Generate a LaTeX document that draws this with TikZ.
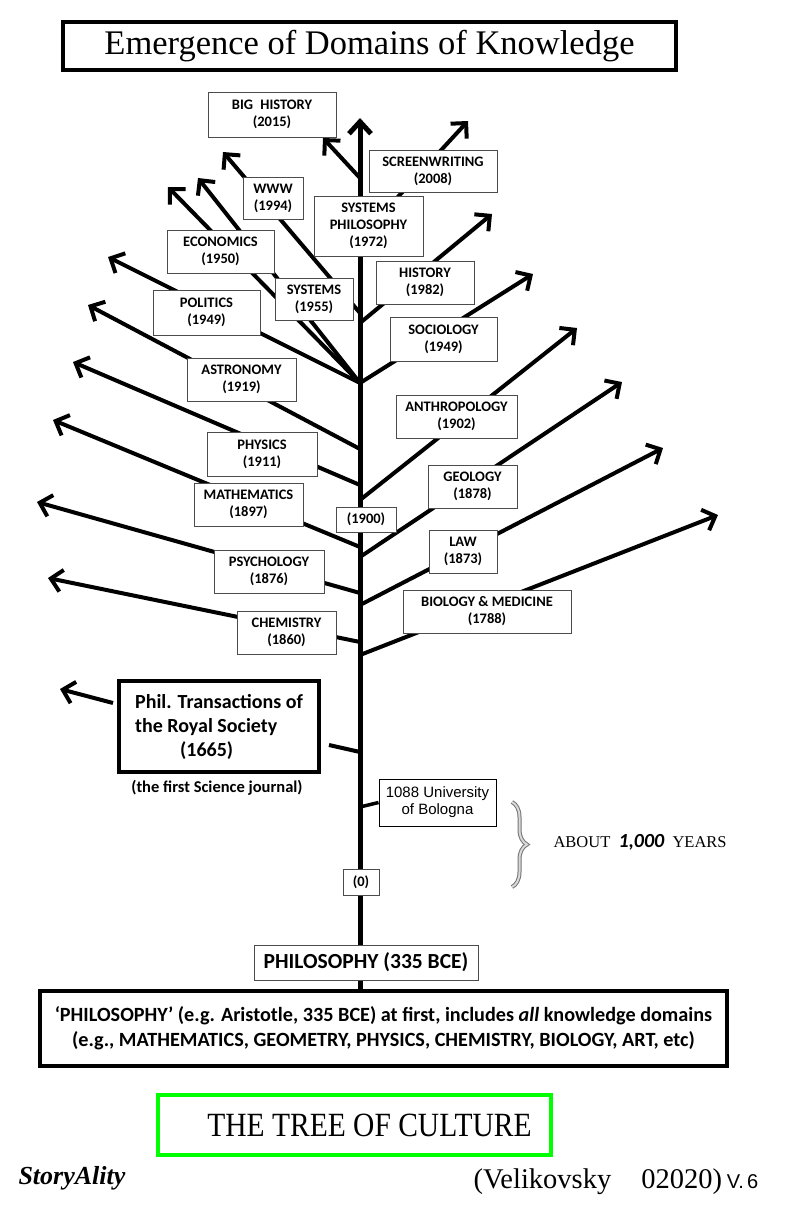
\documentclass[tikz,border=0pt]{standalone}
\usepackage{fontspec}
\setmainfont{Liberation Serif}
\newfontfamily\calibri{Carlito}
\newfontfamily\arialf{Liberation Sans}
\usetikzlibrary{arrows.meta,calc,decorations.pathreplacing}
\definecolor{treegreen}{RGB}{0,255,0}
\newcommand{\fs}[2]{\fontsize{#1}{#2}\selectfont}

\begin{document}
\begin{tikzpicture}[x=1pt,y=-1pt,
  trunk/.style={line width=5pt,-{Straight Barb[length=12pt,width=22pt]}},
  branch/.style={line width=4pt,-{Straight Barb[length=11pt,width=22pt]}},
  twig/.style={line width=4pt},
  lbl/.style={draw=black!70,line width=0.9pt,fill=white,inner sep=0pt,align=center,font=\calibri\bfseries\fs{14.5}{17}},
  frame/.style={draw,line width=4pt,fill=white,inner sep=0pt}]
\useasboundingbox (0,0) rectangle (788,1212);
% trunk
\coordinate (tbase) at (360,991);
\coordinate (ttop) at (360,118);
\draw[trunk] (tbase) -- (ttop);
% branches: name/trunk y/tip x/tip y
\foreach \n/\ty/\ex/\ey in {bio/655/718/515, law/605/663/448, geo/557/622/382,
    anth/500/577/328, soc/383/533/274, hist/323/492/214, scr/238/468/121,
    big/178/323/138, www/313/223/152, ecoa/383/198/178, ecob/383/168/187,
    pol/383/108/257, ast/449/88/305, phy/485/73/362, mat/547/53/420,
    psy/593/37/502, chem/642/48/578}
  {\coordinate (t\n) at (360,\ty);
   \coordinate (e\n) at (\ex,\ey);
   \draw[branch] (t\n) -- (e\n);}
% domain boxes: name/x/y/width/height/text
\foreach \n/\x/\y/\w/\h/\t in {
    bighist/272/114.5/128/45/{BIG\enspace HISTORY\\(2015)},
    scrw/433/171/128/42/{SCREENWRITING\\(2008)},
    wwwb/273/198/60/42/{WWW\\(1994)},
    sysphil/368.5/226/109/60/{SYSTEMS\\PHILOSOPHY\\(1972)},
    econ/220.5/251.5/107/43/{ECONOMICS\\(1950)},
    histb/425/282.5/98/43/{HISTORY\\(1982)},
    syst/314/299/78/42/{SYSTEMS\\(1955)},
    polb/206.5/312.5/107/45/{POLITICS\\(1949)},
    socb/443.5/339/107/44/{SOCIOLOGY\\(1949)},
    astb/241.5/379.5/109/43/{ASTRONOMY\\(1919)},
    anthb/456.5/416.5/121/43/{ANTHROPOLOGY\\(1902)},
    phyb/262/454/110/44/{PHYSICS\\(1911)},
    geob/472.5/486.5/89/43/{GEOLOGY\\(1878)},
    matb/248.5/504.5/109/43/{MATHEMATICS\\(1897)},
    y1900/366/519.5/60/25/{(1900)},
    psyb/269/571.5/110/43/{PSYCHOLOGY\\(1876)},
    lawb/463/551.5/68/43/{LAW\\(1873)},
    biob/487/611.5/168/43/{BIOLOGY \& MEDICINE\\(1788)},
    chemb/286.5/632.5/99/43/{CHEMISTRY\\(1860)},
    y0/361/882/36/26/{(0)}}
  \node[lbl,minimum width=\w pt,minimum height=\h pt] (\n) at (\x,\y) {\t};
% first journal
\node[frame,minimum width=200pt,minimum height=91pt,align=left,font=\calibri\bfseries\fs{20}{24}] (phil) at (219,726.5)
  {Phil. Transactions of\\the Royal Society\\\hspace*{45pt}(1665)};
\node[font=\calibri\bfseries\fs{16.5}{18}] (journal) at (217,788) {(the first Science journal)};
\coordinate (ephil) at (60,689);
\coordinate (tphil) at (360,752);
\draw[line width=4pt,-{Straight Barb[length=11pt,width=22pt]}] ($(phil.west)+(-4,-23.5)$) -- (ephil);
\draw[twig] ($(phil.east)+(8,18.5)$) -- (tphil);
% bologna
\node[draw,line width=0.9pt,fill=white,inner sep=0pt,minimum width=117pt,minimum height=47pt,align=center,font=\arialf\fs{15}{17}] (bol) at (437.5,802.5)
  {1088 University\\of Bologna};
\coordinate (tbol) at (360,807);
\draw[line width=3.5pt] (bol.west) -- (tbol);
\draw[decorate,decoration={brace,amplitude=15pt},line width=4pt,black!55] (512,802) -- (512,887);
\draw[decorate,decoration={brace,amplitude=15pt},line width=2pt,gray!30] (512,802) -- (512,887);
\node[anchor=west,font=\fs{16.5}{18}] (about) at (550,842) {ABOUT\ \ {\calibri\bfseries\itshape\fs{20}{20}1,000}\ \ YEARS};
% root
\node[lbl,minimum width=224pt,minimum height=35pt,font=\calibri\bfseries\fs{21.5}{22}] (philo) at (366,962.5) {PHILOSOPHY (335 BCE)};
\node[frame,minimum width=687pt,minimum height=75pt,align=center,font=\calibri\bfseries\fs{20.2}{25}] (domains) at (383.5,1028.5)
  {‘PHILOSOPHY’ (e.g. Aristotle, 335 BCE) at first, includes \textit{all} knowledge domains\\(e.g., MATHEMATICS, GEOMETRY, PHYSICS, CHEMISTRY, BIOLOGY, ART, etc)};
% titles
\node[frame,minimum width=613pt,minimum height=48pt,font=\fs{34.5}{36}] (title) at (369.5,46) {Emergence of Domains of Knowledge};
\node[frame,draw=treegreen,minimum width=393pt,minimum height=60pt,font=\fs{29.5}{30}] (tree) at (354.5,1125) {\hspace*{30pt}\scalebox{1}[1.15]{THE TREE OF CULTURE}};
\node[anchor=west,font=\bfseries\itshape\fs{26}{28}] (brand) at (15,1178) {StoryAlity};
\node[anchor=west,font=\fs{28.5}{30}] (credit) at (470,1182) {(Velikovsky\hspace{30pt}02020)\,{\arialf\fs{20}{20}V.\,6}};
\end{tikzpicture}
\end{document}
